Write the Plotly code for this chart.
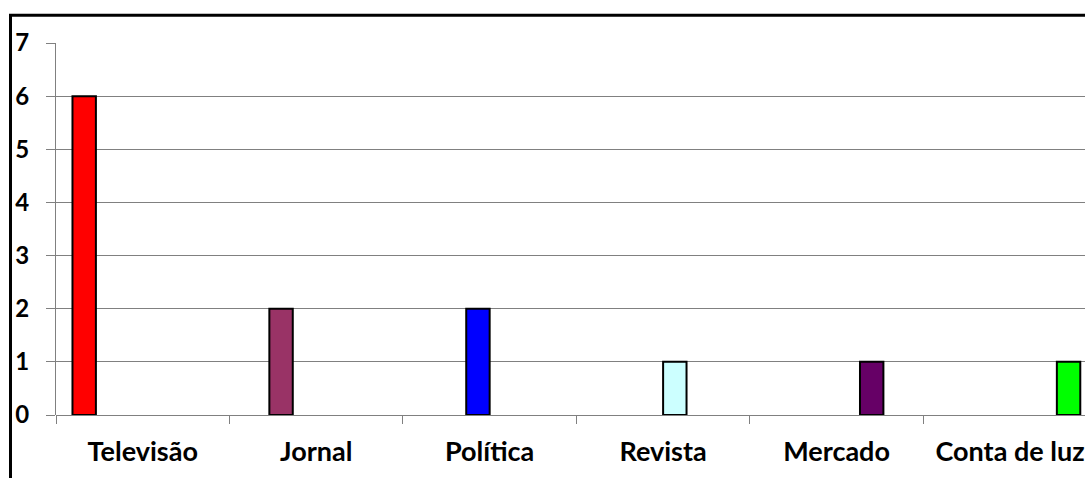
import plotly.graph_objects as go

categories = ["Televisão", "Jornal", "Política", "Revista", "Mercado", "Conta de luz"]
values = [6, 2, 2, 1, 1, 1]
colors = ["#FF0000", "#993366", "#0000FF", "#CCFFFF", "#660066", "#00FF00"]
y_ticks = [0, 1, 2, 3, 4, 5, 6, 7]

W, H = 1085, 478
L, T, B = 56, 43, 63

fig = go.Figure()
# one series per category, so each bar sits in its own slot of the group
for i, (cat, val, col) in enumerate(zip(categories, values, colors)):
    ys = [val if j == i else None for j in range(len(categories))]
    fig.add_trace(go.Bar(
        x=categories, y=ys, name=cat,
        marker=dict(color=col, line=dict(color="#000000", width=2)),
    ))

plot_w = W - L
cat_px = (923.3 - 56) / 5
x_hi = -0.5 + plot_w / cat_px

font = "Lato, Calibri, Arial, sans-serif"
fig.update_layout(
    width=W, height=H,
    margin=dict(l=L, r=0, t=T, b=B, pad=0),
    paper_bgcolor="white", plot_bgcolor="white",
    barmode="group", bargap=0.19, bargroupgap=0,
    showlegend=False,
    font=dict(family=font, color="black"),
    xaxis=dict(
        type="category", range=[-0.5, x_hi],
        showgrid=False, showline=False, zeroline=False,
        ticks="outside", tickson="boundaries", ticklen=8, tickcolor="#808080", tickwidth=1,
        tickfont=dict(family=font, size=27, color="black", weight="bold"),
        ticklabelstandoff=18,
    ),
    yaxis=dict(
        range=[0, 7], tickvals=y_ticks, ticktext=[str(v) for v in y_ticks],
        showgrid=True, gridcolor="#808080", gridwidth=1,
        showline=True, linecolor="#808080", linewidth=1,
        zeroline=True, zerolinecolor="#808080", zerolinewidth=1,
        ticks="outside", ticklen=9, tickcolor="#808080", tickwidth=1,
        tickfont=dict(family=font, size=24, color="black", weight="bold"),
        ticklabelstandoff=12,
    ),
)

# outer frame around the chart area
plot_h = H - T - B
x0 = (10.5 - L) / plot_w
y1 = (H - B - 15.3) / plot_h
fig.add_shape(type="rect", xref="paper", yref="paper",
              x0=x0, x1=1.2, y0=-0.5, y1=y1,
              line=dict(color="black", width=3), fillcolor="rgba(0,0,0,0)", layer="above")

fig.write_html("out.html")
